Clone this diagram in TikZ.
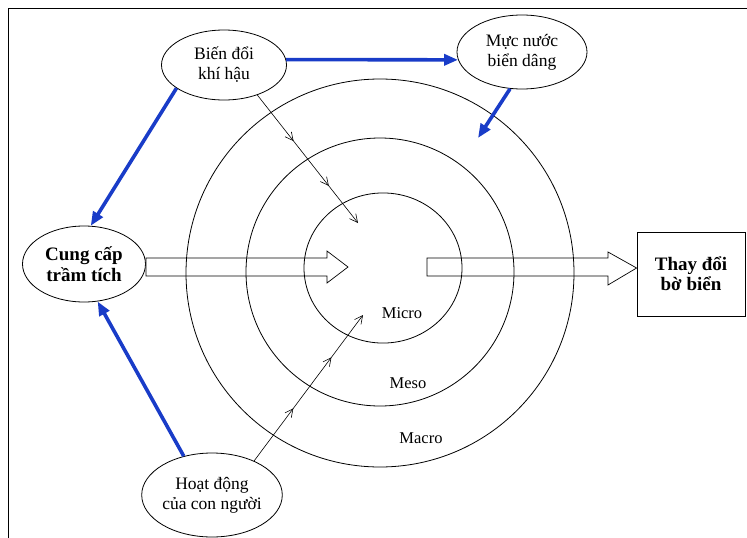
\documentclass[tikz,border=0pt]{standalone}
\usepackage{fontspec}
\setmainfont{Liberation Serif}
\usetikzlibrary{arrows.meta,decorations.markings,shapes.geometric}
\definecolor{arrowblue}{RGB}{25,60,200}
\begin{document}
\begin{tikzpicture}[x=1pt,y=-1pt,
  ell/.style={draw,ellipse,line width=0.8pt,inner sep=0pt,align=center,font=\fontsize{17.5}{20}\selectfont},
  ring/.style={draw,circle,line width=0.8pt,inner sep=0pt},
  lbl/.style={font=\fontsize{16.5}{19}\selectfont,inner sep=0pt},
  bluearrow/.style={draw=arrowblue,line width=3.6pt,-{Triangle[length=14pt,width=11pt]}},
  thinarrow/.style={draw,line width=0.6pt,-{Straight Barb[length=8pt,width=8pt]},
    postaction={decorate},
    decoration={markings,
      mark=at position 0.36 with {\arrow{Straight Barb[length=8pt,width=8pt]}},
      mark=at position 0.71 with {\arrow{Straight Barb[length=8pt,width=8pt]}}}},
  fat/.style={draw,line width=0.7pt,fill=white}
]
\useasboundingbox (0,0) rectangle (747,538);
% frame (top and left)
\draw[line width=1pt] (747,8) -- (8,8) -- (8,538);

% ellipse nodes
\node[ell,minimum width=125pt,minimum height=70pt] (bd) at (224,65) {Biến đổi\\khí hậu};
\node[ell,minimum width=130pt,minimum height=74pt] (mn) at (522,52) {Mực nước\\biển dâng};
\node[ell,minimum width=123pt,minimum height=76pt,font=\bfseries\fontsize{19}{21}\selectfont] (cc) at (84,264) {Cung cấp\\trầm tích};
\node[ell,minimum width=130pt,minimum height=84pt] (ho) at (212,495) {Hoạt động\\của con người};

% box
\node[draw,line width=0.8pt,minimum width=108pt,minimum height=84pt,align=center,
  font=\bfseries\fontsize{19}{20}\selectfont] (tb) at (691,274) {Thay đổi\\bờ biển};

% fat arrows
\coordinate (la) at (cc.east |- 0,267);
\draw[fat] ([yshift=9pt]la) -- (327,258) -- (327,251) -- (348,267) -- (327,283) -- (327,276) -- ([yshift=-9pt]la) -- cycle;
\coordinate (ra) at (427,267);
\draw[fat] ([yshift=9pt]ra) -- (608,258) -- (608,252) -- (tb.west |- 0,268) -- (608,285) -- (608,276) -- ([yshift=-9pt]ra) -- cycle;

% rings
\node[ring,minimum width=388pt] (macro) at (380,273) {};
\node[ring,minimum width=268pt] (meso) at (380,272) {};
\node[ring,minimum width=158pt,yscale=0.95] (micro) at (383,268) {};

\node[lbl] (lmicro) at (402,313) {Micro};
\node[lbl] (lmeso) at (408,383) {Meso};
\node[lbl] (lmacro) at (421,438) {Macro};

% blue arrows
\coordinate (mnend) at (478,138);
\draw[bluearrow] (bd.5) -- (mn.187);
\draw[bluearrow] (bd.206) -- (cc.80);
\draw[bluearrow] (mn.252) -- (mnend);
\draw[bluearrow] (ho.126) -- (cc.290);

% thin arrows
\coordinate (c1) at (358,223);
\coordinate (c2) at (363,315);
\draw[thinarrow] (bd.318) -- (c1);
\draw[thinarrow] (ho.39) -- (c2);
\end{tikzpicture}
\end{document}
